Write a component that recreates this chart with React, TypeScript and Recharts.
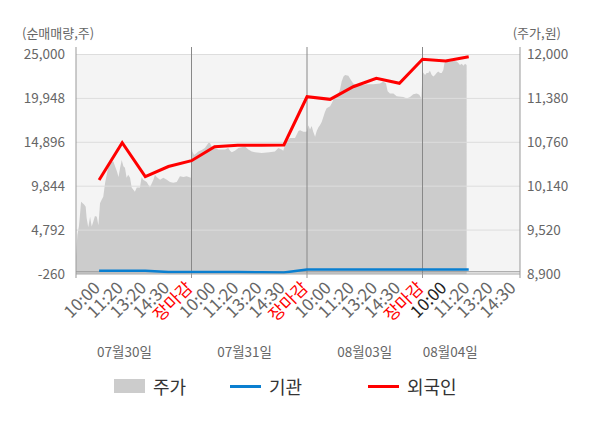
import React from 'react'
import {
  ComposedChart,
  Area,
  Line,
  XAxis,
  YAxis,
  ReferenceLine,
  ReferenceArea,
  Legend,
} from 'recharts'

const FONT = '"Noto Sans CJK KR", "Noto Sans", sans-serif'

// x is a slot on the time grid: 5 slots per trading day, tick labels at each slot
const timeLabels = ['10:00', '11:20', '13:20', '14:30', '장마감']
const dayLabels = ['07월30일', '07월31일', '08월03일', '08월04일']
const dayLabelSlots = [2.1, 7.3, 12.5, 16.2]
const X_END = 19.22

const leftTicks = [-260, 4792, 9844, 14896, 19948, 25000]
const rightTicks = [8900, 9520, 10140, 10760, 11380, 12000]

// 주가 (원) as [slot, price]
const priceDay1 = [
  [0, 9150], [0.06, 9450], [0.13, 9580], [0.17, 9730], [0.22, 9920], [0.35, 9880],
  [0.42, 9850], [0.46, 9690], [0.53, 9560], [0.61, 9710], [0.68, 9570], [0.75, 9640],
  [0.82, 9720], [0.9, 9710], [0.97, 9590], [1.04, 9900], [1.11, 9950], [1.18, 9990],
  [1.26, 10190], [1.33, 10300], [1.4, 10420], [1.47, 10470], [1.55, 10490], [1.62, 10490],
  [1.69, 10420], [1.77, 10350], [1.84, 10270], [1.91, 10400], [1.98, 10510], [2.05, 10420],
  [2.12, 10400], [2.19, 10260], [2.26, 10300], [2.34, 10260], [2.41, 10120], [2.55, 10060],
  [2.63, 10120], [2.77, 10120], [2.84, 10270], [2.91, 10230], [3.06, 10200], [3.2, 10120],
  [3.35, 10230], [3.42, 10300], [3.49, 10270], [3.64, 10230], [3.78, 10260], [3.93, 10230],
  [4.07, 10200], [4.21, 10190], [4.36, 10200], [4.5, 10280], [4.65, 10270], [4.79, 10280],
  [4.97, 10260],
]
const priceDay2 = [
  [5.0, 10720], [5.04, 10630], [5.11, 10580], [5.19, 10600], [5.29, 10630], [5.44, 10650],
  [5.58, 10680], [5.73, 10750], [5.8, 10750], [5.87, 10700], [6.02, 10680], [6.16, 10660],
  [6.45, 10660], [6.59, 10680], [6.67, 10640], [6.74, 10620], [6.88, 10640], [7.03, 10680],
  [7.17, 10690], [7.32, 10700], [7.46, 10660], [7.61, 10630], [7.75, 10620], [8.04, 10610],
  [8.37, 10620], [8.61, 10630], [8.76, 10680], [8.9, 10660], [8.97, 10640], [9.05, 10720],
  [9.12, 10770], [9.26, 10820], [9.48, 10820], [9.63, 10920], [9.7, 10930], [9.84, 10910],
  [9.97, 10910],
]
const priceDay3 = [
  [10.0, 10920], [10.06, 11000], [10.13, 10940], [10.2, 10990], [10.27, 10910], [10.35, 10840],
  [10.42, 10920], [10.49, 10970], [10.56, 11000], [10.64, 11050], [10.71, 11120], [10.78, 11190],
  [10.85, 11240], [11.0, 11270], [11.07, 11310], [11.14, 11360], [11.21, 11400], [11.29, 11430],
  [11.36, 11450], [11.43, 11510], [11.5, 11620], [11.58, 11690], [11.65, 11710], [11.79, 11700],
  [11.86, 11660], [12.0, 11590], [12.15, 11570], [12.44, 11570], [12.58, 11580], [12.87, 11580],
  [13.16, 11590], [13.3, 11620], [13.42, 11590], [13.49, 11480], [13.59, 11450], [13.74, 11450],
  [13.88, 11410], [14.17, 11400], [14.32, 11380], [14.46, 11400], [14.6, 11440], [14.75, 11450],
  [14.86, 11430], [14.95, 11380],
]
const priceDay4 = [
  [15.0, 11760], [15.04, 11740], [15.11, 11710], [15.18, 11740], [15.25, 11740], [15.32, 11770],
  [15.4, 11710], [15.47, 11690], [15.54, 11710], [15.61, 11740], [15.68, 11760], [15.76, 11740],
  [15.83, 11740], [15.9, 11780], [15.95, 11880], [16.05, 11900], [16.19, 11900], [16.34, 11910],
  [16.48, 11900], [16.55, 11880], [16.62, 11850], [16.7, 11870], [16.77, 11840], [16.84, 11870],
  [16.91, 11850],
]

// 순매매량 (주), one value per labelled slot starting at slot 1
const foreign = [
  10560, 14850, 10940, 12110, 12780, 14390, 14550, 14550, 14590,
  20140, 19840, 21290, 22260, 21690, 24450, 24250, 24750,
]
const institution = [
  110, 110, 100, -30, -40, -40, -40, -50, -80,
  260, 260, 260, 260, 260, 260, 260, 260,
]

const legendItems = [
  { name: '주가', color: '#cccccc', kind: 'rect', left: 114 },
  { name: '기관', color: '#0a7fd0', kind: 'line', left: 230 },
  { name: '외국인', color: '#ff0000', kind: 'line', left: 368 },
]

interface Row {
  x: number
  price?: number
  foreign?: number
  inst?: number
}

function buildData(): Row[] {
  const rows = new Map<number, Row>()
  ;[...priceDay1, ...priceDay2, ...priceDay3, ...priceDay4].forEach(([x, p]) => {
    rows.set(x, { x, price: p })
  })
  foreign.forEach((v, i) => {
    const x = i + 1
    const r = rows.get(x) ?? { x }
    r.foreign = v
    r.inst = institution[i]
    rows.set(x, r)
  })
  return [...rows.values()].sort((a, b) => a.x - b.x)
}

const data = buildData()

const timeTicks = [...Array.from({ length: 20 }, (_, i) => i), X_END]
const fmt = (v: number) => v.toLocaleString('en-US')

const TimeTick = (props: any) => {
  const { x, y, payload } = props
  const v = payload.value as number
  const boundary = v % 5 === 0 || v === X_END
  const label = v > 0 && Number.isInteger(v) ? timeLabels[(v - 1) % 5] : ''
  const isClose = label === '장마감'
  const color = isClose ? '#ff0000' : v === 16 ? '#222222' : '#666666'
  const tx = x + 2
  const ty = y + 15
  return (
    <g>
      {boundary && <line x1={x} y1={y} x2={x} y2={y + 4} stroke="#999" />}
      {label && (
        <text
          x={tx}
          y={ty}
          transform={`rotate(-45 ${tx} ${ty})`}
          textAnchor="end"
          fill={color}
          fontSize={17}
          fontFamily={FONT}
        >
          {label}
        </text>
      )}
    </g>
  )
}

const DateTick = (props: any) => {
  const { x, y, index } = props
  return (
    <text
      x={x}
      y={y + 23}
      textAnchor="middle"
      fill="#666"
      fontSize={13.5}
      fontFamily={FONT}
    >
      {dayLabels[index]}
    </text>
  )
}

const renderLegend = () => (
  <div style={{ position: 'relative', height: 30, fontFamily: FONT }}>
    {legendItems.map((item) => (
      <div
        key={item.name}
        style={{
          position: 'absolute',
          left: item.left,
          top: 0,
          display: 'flex',
          alignItems: 'center',
          height: 30,
          fontSize: 18,
          color: '#333',
        }}
      >
        <span
          style={{
            display: 'inline-block',
            width: 31,
            height: item.kind === 'rect' ? 14 : 3,
            backgroundColor: item.color,
            marginRight: 8,
          }}
        />
        {item.name}
      </div>
    ))}
  </div>
)

export default function App() {
  return (
    <div style={{ position: 'absolute', left: 0, top: 0, width: 600, height: 428, background: '#fff' }}>
      <div style={{ position: 'absolute', left: 22, top: 23, fontSize: 13, color: '#666', fontFamily: FONT }}>
        (순매매량,주)
      </div>
      <div style={{ position: 'absolute', right: 39, top: 23, fontSize: 13, color: '#666', fontFamily: FONT }}>
        (주가,원)
      </div>
      <ComposedChart
        width={600}
        height={428}
        data={data}
        margin={{ top: 47, right: 0, bottom: 64, left: 0 }}
      >
        <XAxis
          xAxisId={0}
          dataKey="x"
          type="number"
          domain={[0, X_END]}
          ticks={timeTicks}
          interval={0}
          tick={<TimeTick />}
          tickLine={false}
          tickSize={0}
          tickMargin={0}
          axisLine={{ stroke: '#aaa' }}
          height={60}
        />
        <XAxis
          xAxisId={1}
          dataKey="x"
          type="number"
          domain={[0, X_END]}
          ticks={dayLabelSlots}
          interval={0}
          tick={<DateTick />}
          tickLine={false}
          tickSize={0}
          tickMargin={0}
          axisLine={false}
          height={30}
        />
        <YAxis
          yAxisId="left"
          orientation="left"
          type="number"
          domain={[-260, 25000]}
          ticks={leftTicks}
          interval={0}
          tickFormatter={fmt}
          tickLine={false}
          tickSize={0}
          tickMargin={11}
          axisLine={{ stroke: '#999' }}
          padding={{ top: 7.5, bottom: 0 }}
          width={76}
          tick={{ fill: '#666', fontSize: 13.5, fontFamily: FONT }}
        />
        <YAxis
          yAxisId="right"
          orientation="right"
          type="number"
          domain={[8900, 12000]}
          ticks={rightTicks}
          interval={0}
          tickFormatter={fmt}
          tickLine={false}
          tickSize={0}
          tickMargin={7}
          axisLine={{ stroke: '#999' }}
          padding={{ top: 7.5, bottom: 0 }}
          width={80}
          tick={{ fill: '#666', fontSize: 13.5, fontFamily: FONT }}
        />
        <ReferenceArea
          xAxisId={0}
          yAxisId="left"
          x1={0}
          x2={X_END}
          y1={-260}
          y2={25000}
          fill="#f4f4f4"
          fillOpacity={1}
          stroke="none"
        />
        <Area
          xAxisId={0}
          yAxisId="right"
          dataKey="price"
          type="linear"
          fill="#cccccc"
          fillOpacity={1}
          stroke="none"
          connectNulls
          isAnimationActive={false}
          activeDot={false}
        />
        {leftTicks.slice(1).map((t) => (
          <ReferenceLine key={t} xAxisId={0} yAxisId="left" y={t} stroke="#dddddd" />
        ))}
        <ReferenceLine xAxisId={0} yAxisId="left" y={0} stroke="#999" />
        {[5, 10, 15].map((d) => (
          <ReferenceLine key={d} xAxisId={0} yAxisId="left" x={d} stroke="#888" />
        ))}
        <Line
          xAxisId={0}
          yAxisId="left"
          dataKey="inst"
          stroke="#0a7fd0"
          strokeWidth={2.5}
          dot={false}
          activeDot={false}
          connectNulls
          isAnimationActive={false}
        />
        <Line
          xAxisId={0}
          yAxisId="left"
          dataKey="foreign"
          stroke="#ff0000"
          strokeWidth={3}
          dot={false}
          activeDot={false}
          connectNulls
          isAnimationActive={false}
        />
        <Legend
          content={renderLegend}
          layout="horizontal"
          verticalAlign="middle"
          align="center"
          wrapperStyle={{ top: 371, left: 0, width: 600 }}
        />
      </ComposedChart>
    </div>
  )
}
